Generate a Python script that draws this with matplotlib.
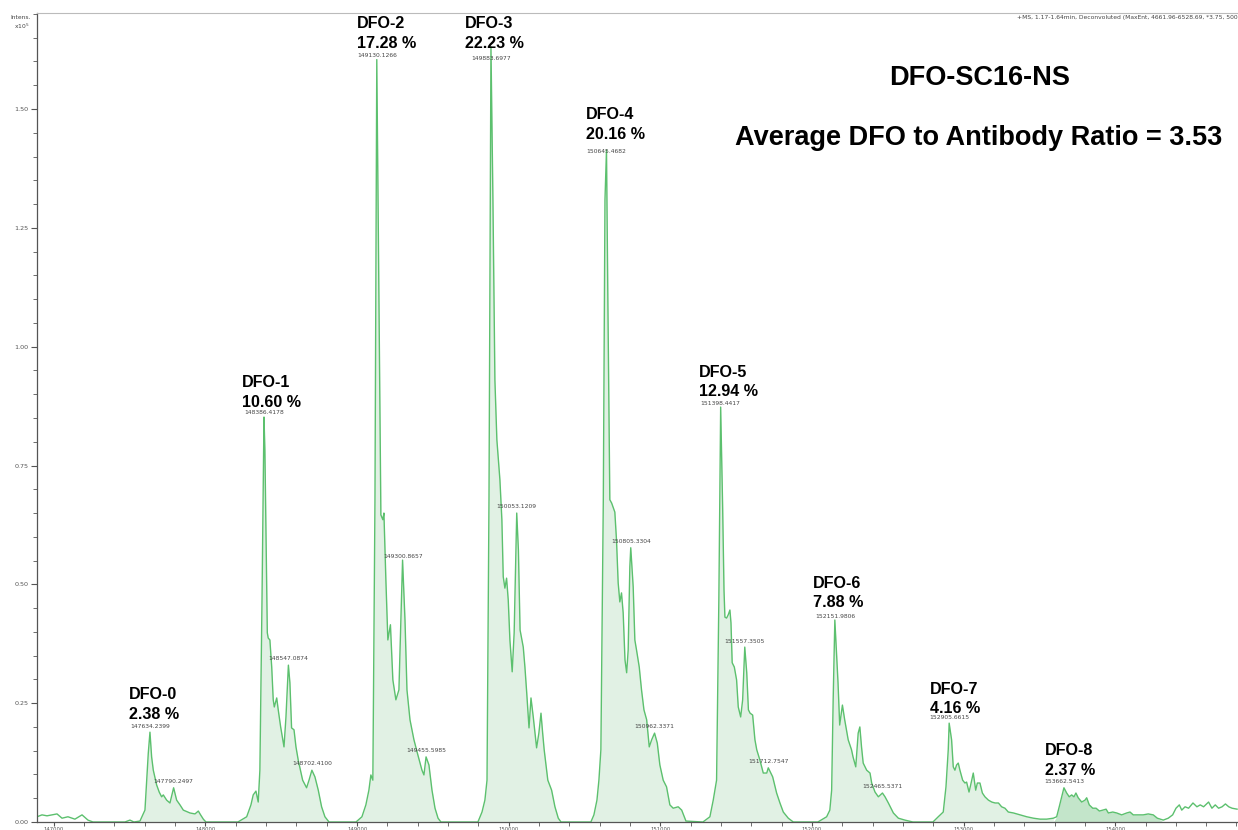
import matplotlib
matplotlib.use('Agg')
import matplotlib.pyplot as plt
from matplotlib.ticker import MultipleLocator, FormatStrFormatter
import numpy as np

# ---------------- data (mass in Da, intensity in x10^5 counts) ----------------
mass = [
    146889, 146922, 146955, 146988, 147021, 147054, 147093, 147139, 147186, 147225, 147258,
    147469, 147502, 147528,
    # DFO-0
    147568, 147601, 147623, 147634, 147645, 147656, 147667, 147678, 147695, 147711, 147722,
    147744, 147766, 147790, 147810, 147832, 147854, 147898, 147931, 147953, 147968, 147986, 148003,
    # DFO-1
    148214, 148272, 148300, 148315, 148333, 148348, 148359, 148373, 148386, 148392, 148399,
    148408, 148414, 148425, 148437, 148447, 148454, 148470, 148480, 148496, 148518, 148531,
    148547, 148557, 148568, 148584, 148597, 148612, 148641, 148667, 148683, 148702, 148722,
    148744, 148766, 148788, 148815,
    # DFO-2
    148993, 149032, 149058, 149078, 149091, 149104, 149118, 149130, 149144, 149157, 149170,
    149177, 149190, 149203, 149220, 149236, 149256, 149276, 149289, 149300, 149316, 149329,
    149349, 149375, 149401, 149428, 149441, 149455, 149474, 149494, 149514, 149534, 149553,
    # DFO-3
    149797, 149824, 149843, 149857, 149870, 149883, 149896, 149909, 149922, 149942, 149955,
    149964, 149975, 149986, 149997, 150008, 150023, 150036, 150053, 150064, 150075, 150096,
    150107, 150119, 150134, 150147, 150162, 150184, 150199, 150213, 150224, 150234, 150258,
    150283, 150305, 150327, 150345,
    # DFO-4
    150542, 150562, 150582, 150595, 150608, 150624, 150635, 150645, 150654, 150667, 150679,
    150700, 150711, 150722, 150733, 150744, 150755, 150767, 150778, 150788, 150799, 150805,
    150821, 150832, 150843, 150861, 150876, 150892, 150910, 150927, 150943, 150962, 150980,
    150997, 151019, 151041, 151063, 151085, 151118, 151141, 151169,
    # DFO-5
    151281, 151327, 151349, 151371, 151386, 151398, 151411, 151420, 151426, 151437, 151448,
    151459, 151466, 151474, 151488, 151503, 151514, 151530, 151543, 151557, 151570, 151581,
    151592, 151609, 151624, 151636, 151657, 151679, 151702, 151712, 151741, 151767, 151789,
    151811, 151844, 151877,
    # DFO-6
    152039, 152097, 152118, 152130, 152140, 152151, 152172, 152183, 152201, 152216, 152239,
    152261, 152271, 152289, 152305, 152316, 152327, 152338, 152361, 152383, 152394, 152416,
    152438, 152465, 152482, 152504, 152537, 152570, 152613, 152666,
    # DFO-7
    152798, 152833, 152866, 152884, 152899, 152905, 152921, 152932, 152943, 152954, 152965,
    152976, 152994, 153009, 153020, 153036, 153047, 153064, 153080, 153091, 153108, 153124,
    153141, 153164, 153186, 153208, 153230, 153251, 153273, 153295, 153329, 153373, 153417,
    153461, 153505, 153548, 153592,
    # DFO-8
    153614, 153631, 153647, 153662, 153680, 153697, 153713, 153728, 153741, 153756, 153779,
    153801, 153812, 153829, 153852, 153874, 153896, 153918, 153940, 153955, 153984, 154010,
    154043, 154076, 154098, 154119, 154152, 154185, 154218, 154251, 154278,
    # tail
    154317, 154350, 154379, 154401, 154423, 154439, 154461, 154484, 154513, 154539, 154561,
    154583, 154616, 154638, 154660, 154682, 154705, 154727, 154749, 154771, 154804,
]
intensity = [
    0.011, 0.015, 0.013, 0.015, 0.017, 0.008, 0.011, 0.006, 0.015, 0.004, 0.000,
    0.000, 0.004, 0.000,
    # DFO-0
    0.002, 0.025, 0.145, 0.189, 0.137, 0.109, 0.093, 0.078, 0.063, 0.053, 0.057,
    0.046, 0.040, 0.072, 0.046, 0.036, 0.025, 0.019, 0.017, 0.023, 0.015, 0.006, 0.000,
    # DFO-1
    0.000, 0.011, 0.036, 0.057, 0.065, 0.042, 0.109, 0.467, 0.852, 0.783, 0.608,
    0.398, 0.387, 0.383, 0.326, 0.257, 0.242, 0.261, 0.236, 0.200, 0.158, 0.221,
    0.330, 0.293, 0.198, 0.194, 0.158, 0.130, 0.088, 0.072, 0.088, 0.109, 0.095,
    0.067, 0.032, 0.011, 0.000,
    # DFO-2
    0.000, 0.011, 0.036, 0.067, 0.099, 0.088, 0.678, 1.604, 1.098, 0.646, 0.636,
    0.650, 0.509, 0.383, 0.415, 0.299, 0.257, 0.278, 0.425, 0.551, 0.425, 0.278,
    0.215, 0.173, 0.141, 0.109, 0.099, 0.137, 0.120, 0.067, 0.029, 0.008, 0.000,
    # DFO-3
    0.000, 0.021, 0.046, 0.088, 0.678, 1.631, 1.309, 0.930, 0.804, 0.720, 0.636,
    0.516, 0.492, 0.513, 0.467, 0.383, 0.316, 0.398, 0.650, 0.572, 0.404, 0.368,
    0.326, 0.271, 0.198, 0.261, 0.221, 0.156, 0.187, 0.229, 0.187, 0.152, 0.088,
    0.067, 0.032, 0.008, 0.000,
    # DFO-4
    0.000, 0.015, 0.046, 0.088, 0.152, 0.678, 1.309, 1.414, 1.098, 0.678, 0.671,
    0.652, 0.593, 0.503, 0.463, 0.482, 0.440, 0.341, 0.314, 0.362, 0.537, 0.577,
    0.495, 0.383, 0.362, 0.326, 0.278, 0.236, 0.215, 0.158, 0.173, 0.187, 0.166,
    0.120, 0.088, 0.074, 0.036, 0.029, 0.032, 0.025, 0.002,
    # DFO-5
    0.000, 0.011, 0.046, 0.088, 0.467, 0.873, 0.663, 0.488, 0.431, 0.429, 0.436,
    0.446, 0.419, 0.335, 0.326, 0.299, 0.242, 0.221, 0.257, 0.368, 0.314, 0.236,
    0.229, 0.225, 0.173, 0.152, 0.130, 0.103, 0.103, 0.114, 0.095, 0.061, 0.040,
    0.021, 0.008, 0.000,
    # DFO-6
    0.000, 0.011, 0.025, 0.067, 0.257, 0.425, 0.293, 0.204, 0.246, 0.215, 0.173,
    0.152, 0.137, 0.116, 0.187, 0.200, 0.158, 0.124, 0.109, 0.103, 0.082, 0.063,
    0.053, 0.061, 0.053, 0.040, 0.019, 0.008, 0.004, 0.000,
    # DFO-7
    0.000, 0.011, 0.021, 0.074, 0.152, 0.208, 0.173, 0.116, 0.109, 0.120, 0.124,
    0.109, 0.088, 0.082, 0.084, 0.063, 0.078, 0.103, 0.067, 0.082, 0.082, 0.061,
    0.053, 0.046, 0.042, 0.040, 0.040, 0.032, 0.029, 0.021, 0.019, 0.015, 0.011,
    0.008, 0.006, 0.006, 0.008,
    # DFO-8
    0.011, 0.032, 0.053, 0.072, 0.061, 0.053, 0.057, 0.053, 0.061, 0.051, 0.042,
    0.046, 0.051, 0.036, 0.029, 0.029, 0.023, 0.025, 0.027, 0.019, 0.021, 0.019,
    0.015, 0.019, 0.021, 0.015, 0.015, 0.015, 0.017, 0.015, 0.008,
    # tail
    0.004, 0.008, 0.015, 0.029, 0.036, 0.025, 0.032, 0.029, 0.040, 0.032, 0.036,
    0.032, 0.042, 0.029, 0.036, 0.029, 0.032, 0.038, 0.032, 0.029, 0.027,
]

species = ['DFO-0', 'DFO-1', 'DFO-2', 'DFO-3', 'DFO-4', 'DFO-5', 'DFO-6', 'DFO-7', 'DFO-8']
percents = ['2.38', '10.60', '17.28', '22.23', '20.16', '12.94', '7.88', '4.16', '2.37']

peak_labels = [
    '147634.2399', '147790.2497', '148386.4178', '148547.0874', '148702.4100',
    '149130.1266', '149300.8657', '149455.5985', '149883.6977', '150053.1209',
    '150645.4682', '150805.3304', '150962.3371', '151398.4417', '151557.3505',
    '151712.7547', '152151.9806', '152465.5371', '152905.6615', '153662.5413',
]

title = 'DFO-SC16-NS'
subtitle = 'Average DFO to Antibody Ratio = 3.53'
header = '+MS, 1.17-1.64min, Deconvoluted (MaxEnt, 4661.96-6528.69, *3.75, 500'

# ---------------- layout ----------------
# anchor (left mass, baseline intensity of the percentage line) for the species labels
species_anchor = [
    (147496, 0.217), (148241, 0.873), (148999, 1.629), (149711, 1.629), (150509, 1.437),
    (151255, 0.896), (152007, 0.452), (152778, 0.229), (153536, 0.099),
]
# the tallest peak's mass label sits just below the apex (as in the instrument printout)
label_bottom_override = {'149883.6977': 1.600}

LINE = '#5cc06e'
FILL = '#e1f1e4'
FILL_DARK = '#c3e5ca'

fig = plt.figure(figsize=(12.38, 8.30), dpi=100)
ax = fig.add_axes([37 / 1238, 8 / 830, 1 - 37 / 1238, (822 - 13) / 830])

m = np.array(mass, dtype=float)
y = np.array(intensity, dtype=float)

ax.fill_between(m, 0, y, where=(m >= 147560) & (m <= 153600), color=FILL, lw=0, interpolate=True)
ax.fill_between(m, 0, y, where=(m >= 153600) & (m <= 154290), color=FILL_DARK, lw=0, interpolate=True)
ax.plot(m, y, color=LINE, lw=1.0)

ax.set_xlim(146889, 154810)
ax.set_ylim(0, 1.702)

# ticks
ax.xaxis.set_major_locator(MultipleLocator(1000))
ax.xaxis.set_minor_locator(MultipleLocator(200))
ax.yaxis.set_major_locator(MultipleLocator(0.25))
ax.yaxis.set_minor_locator(MultipleLocator(0.05))
ax.yaxis.set_major_formatter(FormatStrFormatter('%.2f'))
ax.xaxis.set_major_formatter(FormatStrFormatter('%d'))
ax.tick_params(axis='y', which='major', length=4, width=0.8, color='#555555',
               labelsize=4.6, labelcolor='#555555', pad=2)
ax.tick_params(axis='x', which='major', length=3, width=0.8, color='#555555',
               labelsize=3.8, labelcolor='#555555', pad=0.3)
ax.tick_params(axis='both', which='minor', length=3, width=0.6, color='#555555')

for s in ['left', 'bottom']:
    ax.spines[s].set_color('#555555')
    ax.spines[s].set_linewidth(0.9)
ax.spines['top'].set_color('#bbbbbb')
ax.spines['top'].set_linewidth(0.8)
ax.spines['right'].set_visible(False)

# species labels
big = ['Liberation Sans', 'DejaVu Sans']
for name, pct, (xm, yb) in zip(species, percents, species_anchor):
    ax.text(xm, yb, f'{name}\n{pct} %', ha='left', va='baseline', fontsize=11.6,
            fontweight='bold', family=big, linespacing=1.38, color='black')

# peak mass labels
for lab in peak_labels:
    pm = float(lab)
    if lab in label_bottom_override:
        ax.text(pm, label_bottom_override[lab], lab, ha='center', va='bottom',
                fontsize=4.3, color='#444444')
        continue
    py = np.interp(pm, m, y)
    ax.annotate(lab, (pm, py), xytext=(0, 3), textcoords='offset points', ha='center',
                va='bottom', fontsize=4.3, color='#444444')

# titles
fig.text(980 / 1238, 1 - 85 / 830, title, ha='center', va='baseline', fontsize=19.5,
         fontweight='bold', family=big)
fig.text(979 / 1238, 1 - 145 / 830, subtitle, ha='center', va='baseline', fontsize=19.5,
         fontweight='bold', family=big)
fig.text(1.0, 1 - 19 / 830, header, ha='right', va='baseline', fontsize=4.3, color='#444444')
fig.text(10 / 1238, 1 - 19 / 830, 'Intens.', ha='left', va='baseline', fontsize=4.3, color='#444444')
fig.text(14 / 1238, 1 - 29 / 830, r'x10$^5$', ha='left', va='baseline', fontsize=4.3, color='#444444')

fig.savefig('out.png', dpi=100)
